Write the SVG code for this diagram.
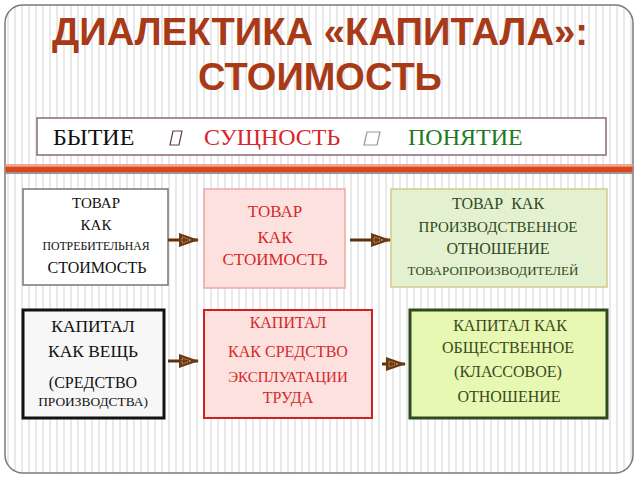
<svg xmlns="http://www.w3.org/2000/svg" width="640" height="480" viewBox="0 0 640 480">
<defs>
<pattern id="stripes" x="0" y="0" width="7" height="10" patternUnits="userSpaceOnUse">
<rect x="0" y="0" width="7" height="10" fill="#ffffff"/>
<rect x="0" y="0" width="2" height="10" fill="#e9e9e9"/>
</pattern>
<marker id="ah" viewBox="0 0 20 14" refX="19" refY="7" markerWidth="20" markerHeight="14" markerUnits="userSpaceOnUse" orient="auto">
<path d="M0,0 L20,7 L0,14 Z" fill="#6b3a12"/>
<path d="M3,4 L12,7 L3,10 Z" fill="none" stroke="#c8a070" stroke-width="1" stroke-dasharray="1.5,1"/>
</marker>
<style>
.title{font-family:"Liberation Sans",Arial,sans-serif;font-weight:bold;font-size:38px;fill:#a83a18;text-anchor:middle}
text.serif, text.sf{font-family:"Liberation Serif","DejaVu Serif","Times New Roman",serif}
.serif{text-anchor:middle}
.conn{stroke:#5e3310;stroke-width:3;fill:none;marker-end:url(#ah)}
</style>
</defs>
<rect x="0" y="0" width="640" height="480" fill="#ffffff"/>
<rect x="5" y="5" width="628" height="468" rx="18" ry="18" fill="url(#stripes)" stroke="#7a7a7a" stroke-width="1.5"/>
<rect x="5.5" y="164" width="627" height="2.5" fill="#f3a48a"/>
<rect x="5.5" y="166.5" width="627" height="5.5" fill="#d9481c"/>
<rect x="5.5" y="172" width="627" height="2" fill="#a09090"/>

<g id="title">
<text class="title" x="320" y="45" textLength="536" lengthAdjust="spacingAndGlyphs">ДИАЛЕКТИКА «КАПИТАЛА»:</text>
<text class="title" x="320" y="90">СТОИМОСТЬ</text>
</g>

<g id="row">
<rect x="37" y="118" width="569" height="37" fill="#ffffff" stroke="#8c6a78" stroke-width="1.5"/>
<text class="sf" x="53" y="145" font-size="24" fill="#111111">БЫТИЕ</text>
<polygon points="173,131 182,131 179,145 170,145" fill="#ffffff" stroke="#5a4050" stroke-width="1.2"/>
<text class="sf" x="204" y="145" font-size="24" fill="#d9262b">СУЩНОСТЬ</text>
<polygon points="367,132 380,132 377,145 364,145" fill="#ffffff" stroke="#9a9a9a" stroke-width="1.2"/>
<text class="sf" x="408" y="145" font-size="24" fill="#1e7a22">ПОНЯТИЕ</text>
</g>

<g id="node-tovar-potr">
<rect x="23" y="189" width="145" height="96" fill="#ffffff" stroke="#777777" stroke-width="1.5"/>
<text class="serif" x="96" y="208" font-size="15" fill="#111">ТОВАР</text>
<text class="serif" x="96" y="230" font-size="15" fill="#111">КАК</text>
<text class="serif" x="96" y="250" font-size="11.8" fill="#111">ПОТРЕБИТЕЛЬНАЯ</text>
<text class="serif" x="97" y="273" font-size="16" fill="#111">СТОИМОСТЬ</text>
</g>

<g id="node-tovar-stoim">
<rect x="204" y="189" width="141" height="99" fill="#fde1df" stroke="#f0a6a6" stroke-width="1.5"/>
<text class="serif" x="275" y="217" font-size="17" fill="#d42a2a">ТОВАР</text>
<text class="serif" x="275" y="243" font-size="17" fill="#d42a2a">КАК</text>
<text class="serif" x="275" y="265" font-size="17" fill="#d42a2a">СТОИМОСТЬ</text>
</g>

<g id="node-tovar-otn">
<rect x="391" y="189" width="216" height="98" fill="#e4f1d0" stroke="#d4c98c" stroke-width="1.5"/>
<text class="serif" x="498" y="209" font-size="16" fill="#2f4a22" xml:space="preserve">ТОВАР  КАК</text>
<text class="serif" x="498" y="232" font-size="15" fill="#2f4a22">ПРОИЗВОДСТВЕННОЕ</text>
<text class="serif" x="498" y="254" font-size="16" fill="#2f4a22">ОТНОШЕНИЕ</text>
<text class="serif" x="493" y="275" font-size="13" fill="#2f4a22">ТОВАРОПРОИЗВОДИТЕЛЕЙ</text>
</g>

<g id="node-kapital-vesch">
<rect x="23" y="310" width="141" height="108" fill="#f7f7f7" stroke="#111111" stroke-width="3"/>
<text class="serif" x="93" y="332" font-size="17.4" fill="#111">КАПИТАЛ</text>
<text class="serif" x="93" y="357" font-size="17.4" fill="#111">КАК ВЕЩЬ</text>
<text class="serif" x="93" y="388" font-size="16" fill="#111">(СРЕДСТВО</text>
<text class="serif" x="93" y="406" font-size="13.4" fill="#111">ПРОИЗВОДСТВА)</text>
</g>

<g id="node-kapital-sredstvo">
<rect x="204" y="310" width="168" height="108" fill="#fde1df" stroke="#cc2222" stroke-width="2"/>
<text class="serif" x="288" y="328" font-size="16" fill="#d42a2a">КАПИТАЛ</text>
<text class="serif" x="288" y="357" font-size="16" fill="#d42a2a">КАК СРЕДСТВО</text>
<text class="serif" x="288" y="382" font-size="15" fill="#d42a2a">ЭКСПЛУАТАЦИИ</text>
<text class="serif" x="288" y="403" font-size="16" fill="#d42a2a">ТРУДА</text>
</g>

<g id="node-kapital-otn">
<rect x="410" y="310" width="197" height="108" fill="#e7f8b2" stroke="#2f4a1e" stroke-width="3"/>
<text class="serif" x="510" y="331" font-size="16" fill="#3a4a1c">КАПИТАЛ КАК</text>
<text class="serif" x="508" y="353" font-size="16" fill="#3a4a1c">ОБЩЕСТВЕННОЕ</text>
<text class="serif" x="508" y="377" font-size="16" fill="#3a4a1c">(КЛАССОВОЕ)</text>
<text class="serif" x="509" y="402" font-size="16" fill="#3a4a1c">ОТНОШЕНИЕ</text>
</g>

<g id="connectors">
<line class="conn" x1="168" y1="240" x2="198" y2="240"/>
<line class="conn" x1="350" y1="240" x2="390" y2="240"/>
<line class="conn" x1="168" y1="361" x2="198" y2="361"/>
<line class="conn" x1="382" y1="364" x2="405" y2="364"/>
</g>
</svg>
